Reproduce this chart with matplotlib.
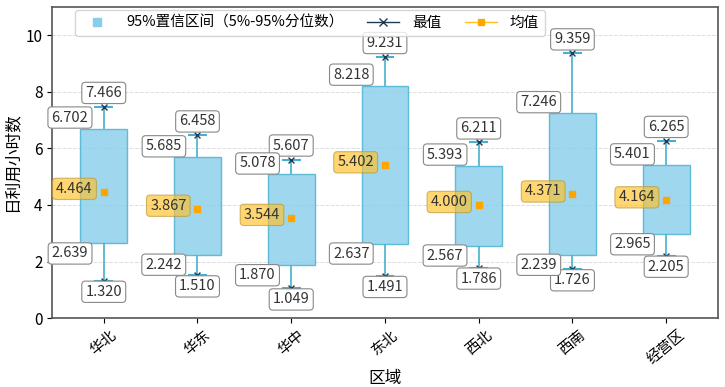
import matplotlib
matplotlib.use('Agg')
import matplotlib.pyplot as plt
import numpy as np
from matplotlib.lines import Line2D

plt.rcParams['font.family'] = ['Noto Sans CJK SC', 'DejaVu Sans']
plt.rcParams['axes.unicode_minus'] = False

regions = ['华北', '华东', '华中', '东北', '西北', '西南', '经营区']
q95 = [6.702, 5.685, 5.078, 8.218, 5.393, 7.246, 5.401]
q5 = [2.639, 2.242, 1.870, 2.637, 2.567, 2.239, 2.965]
vmax = [7.466, 6.458, 5.607, 9.231, 6.211, 9.359, 6.265]
vmin = [1.320, 1.510, 1.049, 1.491, 1.786, 1.726, 2.205]
vmean = [4.464, 3.867, 3.544, 5.402, 4.000, 4.371, 4.164]

box_color = '#87CEEB'
edge_color = '#45B0D0'
mark_color = '#1F3A55'
mean_color = '#FFA500'

fig, ax = plt.subplots(figsize=(7.25, 3.87), dpi=100)
x = np.arange(len(regions))
w = 0.5

ax.bar(x, np.array(q95) - np.array(q5), bottom=q5, width=w,
       color=box_color, alpha=0.8, edgecolor=edge_color, linewidth=1.0, zorder=2)
ax.vlines(x, q95, vmax, color=edge_color, linewidth=1.2, zorder=2)
ax.vlines(x, vmin, q5, color=edge_color, linewidth=1.2, zorder=2)
ax.hlines(vmax, x - 0.1, x + 0.1, color=edge_color, linewidth=1.5, zorder=2)
ax.hlines(vmin, x - 0.1, x + 0.1, color=edge_color, linewidth=1.5, zorder=2)
ax.scatter(x, vmax, marker='x', s=18, color=mark_color, linewidths=1.0, zorder=3)
ax.scatter(x, vmin, marker='x', s=18, color=mark_color, linewidths=1.0, zorder=3)
ax.scatter(x, vmean, marker='s', s=14, color=mean_color, zorder=3)

wb = dict(boxstyle='round,pad=0.25', facecolor='white', edgecolor='#888888', linewidth=0.8)
yb = dict(boxstyle='round,pad=0.25', facecolor='#FFC125', edgecolor='#B8962E', alpha=0.65, linewidth=0.8)
fs = 10.5
for i in range(len(regions)):
    ax.annotate(f'{vmax[i]:.3f}', (x[i], vmax[i]), xytext=(0, 14), textcoords='offset pixels',
                ha='center', va='center', fontsize=fs, color='#333333', bbox=wb, zorder=5)
    ax.annotate(f'{vmin[i]:.3f}', (x[i], vmin[i]), xytext=(0, -11), textcoords='offset pixels',
                ha='center', va='center', fontsize=fs, color='#333333', bbox=wb, zorder=5)
    ax.annotate(f'{q95[i]:.3f}', (x[i] - w / 2, q95[i]), xytext=(8, 11), textcoords='offset pixels',
                ha='right', va='center', fontsize=fs, color='#333333', bbox=wb, zorder=5)
    ax.annotate(f'{q5[i]:.3f}', (x[i] - w / 2, q5[i]), xytext=(8, -10), textcoords='offset pixels',
                ha='right', va='center', fontsize=fs, color='#333333', bbox=wb, zorder=5)
    ax.annotate(f'{vmean[i]:.3f}', (x[i], vmean[i]), xytext=(-11, 3), textcoords='offset pixels',
                ha='right', va='center', fontsize=fs, color='#333333', bbox=yb, zorder=5)

ax.set_xlim(-0.55, 6.55)
ax.set_ylim(0, 11)
ax.set_yticks([0, 2, 4, 6, 8, 10])
ax.set_xticks(x)
ax.set_xticklabels(regions, rotation=40, ha='center', fontsize=10.5)
ax.tick_params(axis='y', labelsize=11)
ax.set_xlabel('区域', fontsize=12, labelpad=2)
ax.set_ylabel('日利用小时数', fontsize=12)
ax.grid(axis='y', linestyle='--', color='#dddddd', linewidth=0.7, zorder=0)
ax.set_axisbelow(True)
for s in ax.spines.values():
    s.set_color('#555555')
    s.set_linewidth(1.2)

handles = [
    Line2D([], [], linestyle='none', marker='s', markersize=6, color=box_color),
    Line2D([], [], color=mark_color, marker='x', markersize=6, linewidth=1.0),
    Line2D([], [], color='#FFC125', marker='s', markersize=5, markerfacecolor=mean_color,
           markeredgecolor=mean_color, linewidth=1.0),
]
labels = ['95%置信区间（5%-95%分位数）', '最值', '均值']
ax.legend(handles, labels, loc='upper left', bbox_to_anchor=(0.03, 1.0), ncol=3,
          fontsize=10.5, frameon=True, borderaxespad=0.2, columnspacing=1.6,
          handlelength=2.2, handletextpad=0.9)

plt.subplots_adjust(left=0.072, right=0.99, top=0.982, bottom=0.178)
fig.savefig('out.png', dpi=100)
